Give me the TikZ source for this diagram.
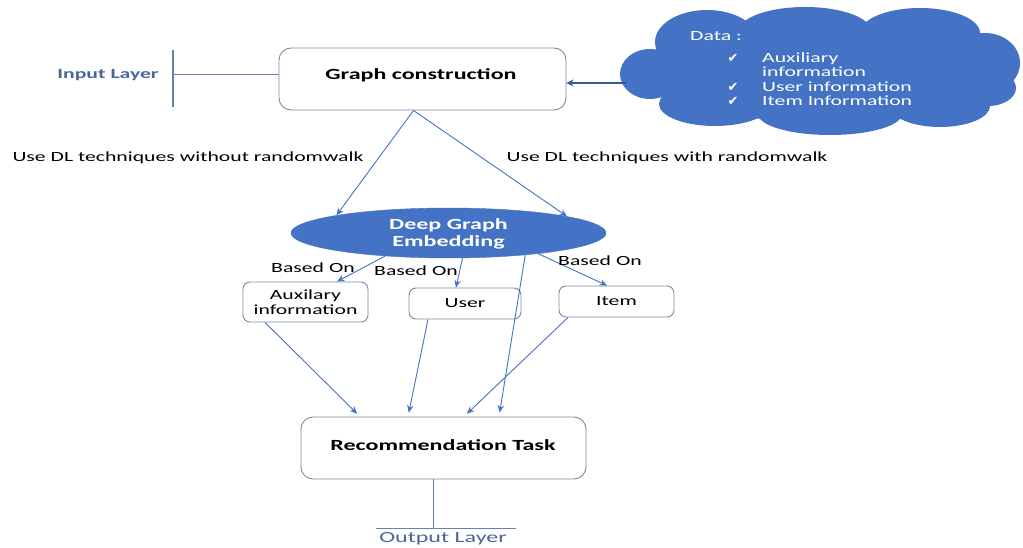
\documentclass[tikz,border=0pt]{standalone}
\usepackage{fontspec}
\setmainfont{Carlito}[FakeStretch=1.55]
\newfontfamily\lblfont{Carlito}[FakeStretch=1.55]
\newfontfamily\symfont{DejaVu Sans}
\usetikzlibrary{arrows.meta,shapes.geometric}
\definecolor{officeblue}{HTML}{4472C4}
\definecolor{boxline}{HTML}{7A8AA3}
\definecolor{layertext}{HTML}{4A6797}
\definecolor{layerline}{HTML}{6680B0}
\definecolor{darkarrow}{HTML}{3A5A94}
\tikzset{
  lbl/.style={font=\lblfont\fontsize{14}{16}\selectfont, inner sep=0pt},
  boldlbl/.style={font=\lblfont\fontsize{15.5}{17}\selectfont\bfseries, inner sep=0pt},
  stepbox/.style={draw=boxline, line width=0.9pt, rounded corners=12pt, fill=white},
  smallbox/.style={draw=boxline, line width=0.9pt, rounded corners=7pt, fill=white,
     font=\lblfont\fontsize{14}{15}\selectfont, align=center, inner sep=0pt},
  conn/.style={draw=officeblue, line width=0.9pt, -{Stealth[length=7.5pt,width=6.5pt]}},
  layerln/.style={draw=layerline, line width=1pt},
  cloudtext/.style={font=\lblfont\fontsize{14}{16}\selectfont, text=white, inner sep=0pt, anchor=base west},
  checkmk/.style={text=white, inner sep=0pt, anchor=base, font=\symfont\fontsize{13}{14}\selectfont},
}
\begin{document}
\begin{tikzpicture}[x=1pt,y=-1pt]
\useasboundingbox (0,0) rectangle (1023,548);

% Input layer
\coordinate (ilt) at (173,50);
\coordinate (ilb) at (173,107);
\coordinate (ilm) at (173,75);
\node[lbl, text=layertext, font=\lblfont\fontsize{14}{16}\selectfont\bfseries] (inlayer) at (108,75) {Input Layer};

% Graph construction
\node[stepbox, minimum width=287pt, minimum height=62pt] (gc) at (422.5,79) {};
\node[boldlbl] (gctext) at (421,75) {Graph construction};

% cloud (drawn directly as a union of puffs)
\fill[officeblue]
  (820,72) ellipse [x radius=170, y radius=50]
  (650,74) ellipse [x radius=30, y radius=25]
  (707,42) ellipse [x radius=52, y radius=32]
  (805,31) ellipse [x radius=66, y radius=24]
  (920,33) ellipse [x radius=60, y radius=25]
  (985,63) ellipse [x radius=35, y radius=30]
  (988,88) ellipse [x radius=28, y radius=18]
  (940,106) ellipse [x radius=50, y radius=21]
  (830,114) ellipse [x radius=72, y radius=21]
  (715,104) ellipse [x radius=56, y radius=22];
\coordinate (cloudleft) at (626,83);
\node[cloudtext] (d0) at (690,41) {Data :};
\node[checkmk] (c1) at (733,63) {✔};
\node[checkmk] (c2) at (733,92) {✔};
\node[checkmk] (c3) at (733,106) {✔};
\node[cloudtext] (d1) at (762,63) {Auxiliary};
\node[cloudtext] (d2) at (762,77) {information};
\node[cloudtext] (d3) at (762,92) {User information};
\node[cloudtext] (d4) at (762,106) {Item Information};

% Deep graph embedding
\node[ellipse, fill=officeblue, draw=officeblue, minimum width=315pt, minimum height=50pt, inner sep=0pt] (deg) at (448.5,233) {};
\node[boldlbl, text=white, align=center] (degtext) at (448.5,234) {Deep Graph\\Embedding};

% boxes
\node[smallbox, minimum width=125pt, minimum height=40pt] (aux) at (305.5,302) {Auxilary\\information};
\node[smallbox, minimum width=112pt, minimum height=31pt] (user) at (465,303.5) {User};
\node[smallbox, minimum width=115pt, minimum height=31pt] (item) at (616.5,301.5) {Item};

\node[stepbox, minimum width=285pt, minimum height=62pt] (rec) at (443.5,448) {};
\node[boldlbl] (rectext) at (443,445) {Recommendation Task};

% output layer
\coordinate (olb) at (433,528);
\coordinate (oll) at (376,528);
\coordinate (olr) at (516,528);
\node[lbl, text=layertext, font=\lblfont\fontsize{15.5}{17}\selectfont] (outlayer) at (443,539) {Output Layer};

% connectors
\draw[layerln, line width=2pt] (ilt) -- (ilb);
\draw[layerln] (ilm) -- ([yshift=4pt]gc.west);
\draw[draw=darkarrow, line width=1.5pt, -{Stealth[length=7pt,width=7pt]}] (cloudleft) -- ([yshift=-4pt]gc.east);

\draw[conn] ([xshift=-9pt]gc.south) -- (deg.171);
\draw[conn] ([xshift=-9pt]gc.south) -- (deg.8);
\node[lbl] (l1) at (188,158) {Use DL techniques without randomwalk};
\node[lbl] (l2) at (667,158) {Use DL techniques with randomwalk};

\draw[conn] (deg.200) -- ([xshift=31.5pt]aux.north);
\draw[conn] ([xshift=14pt]deg.south) -- ([xshift=-9pt]user.north);
\draw[conn] (deg.-13) -- ([xshift=-9.5pt]item.north);
\node[lbl] (b1) at (313,268) {Based On};
\node[lbl] (b2) at (416,271) {Based On};
\node[lbl] (b3) at (600,261) {Based On};

\draw[conn, shorten >=4pt] ([xshift=-40.5pt]aux.south) -- ([xshift=-83.5pt]rec.north);
\draw[conn, shorten >=4pt] ([xshift=-37pt]user.south) -- ([xshift=-35.5pt]rec.north);
\draw[conn, shorten >=4pt] ([xshift=-48.5pt]item.south) -- ([xshift=20.5pt]rec.north);
\draw[conn, shorten >=4pt] (deg.-16) -- ([xshift=55.5pt]rec.north);

\draw[layerln] ([xshift=-10.5pt]rec.south) -- (olb);
\draw[layerln] (oll) -- (olr);
\end{tikzpicture}
\end{document}
